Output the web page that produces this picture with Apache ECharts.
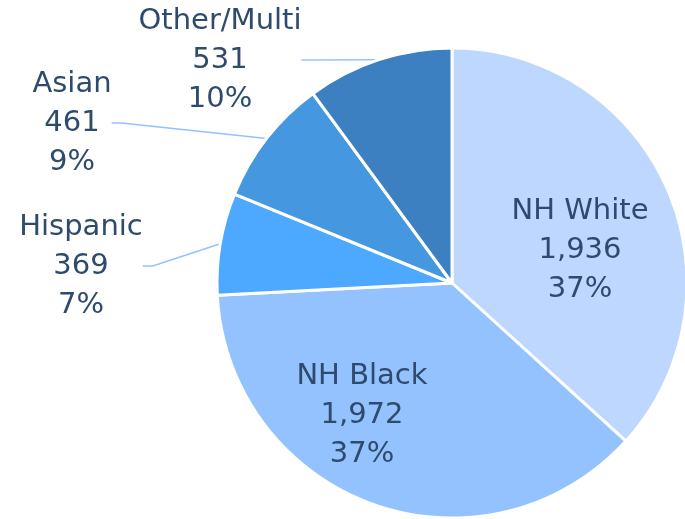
<!DOCTYPE html>
<html><head><meta charset="utf-8">
<script src="https://cdn.jsdelivr.net/npm/echarts@6/dist/echarts.min.js"></script>
<style>html,body{margin:0;padding:0;background:#fff}#c{width:685px;height:519px}</style>
</head><body><div id="c"></div>
<script>
const categories = ['NH White', 'NH Black', 'Hispanic', 'Asian', 'Other/Multi'];
const values = [1936, 1972, 369, 461, 531];
const colors = ['#BDD7FE', '#94C2FE', '#4DA8FF', '#4598E0', '#3C80C1'];
const labelPos = [[580, 250], [362, 415], [81, 266], [72, 123], [220, 60]];

const total = values.reduce((a, b) => a + b, 0);
const chart = echarts.init(document.getElementById('c'));
chart.setOption({
  animation: false,
  series: [{
    type: 'pie',
    center: [452, 283],
    radius: 235,
    startAngle: 90,
    clockwise: true,
    itemStyle: { borderColor: '#fff', borderWidth: 3 },
    label: {
      show: true,
      fontFamily: 'DejaVu Sans',
      fontSize: 29,
      lineHeight: 39,
      color: '#2E4A6C',
      align: 'center',
      formatter: p => p.name + '\n' + p.value.toLocaleString('en-US') + '\n' + Math.round(p.value / total * 100) + '%'
    },
    labelLine: { show: true, lineStyle: { color: '#94C2FE', width: 1.5 }, length: 30, length2: 10 },
    labelLayout: p => ({ x: labelPos[p.dataIndex][0], y: labelPos[p.dataIndex][1], align: 'center', verticalAlign: 'middle' }),
    data: categories.map((n, i) => ({
      name: n, value: values[i], itemStyle: { color: colors[i] },
      label: { position: i < 2 ? 'inside' : 'outside' },
      labelLine: { show: i >= 2 }
    }))
  }]
});
</script></body></html>
